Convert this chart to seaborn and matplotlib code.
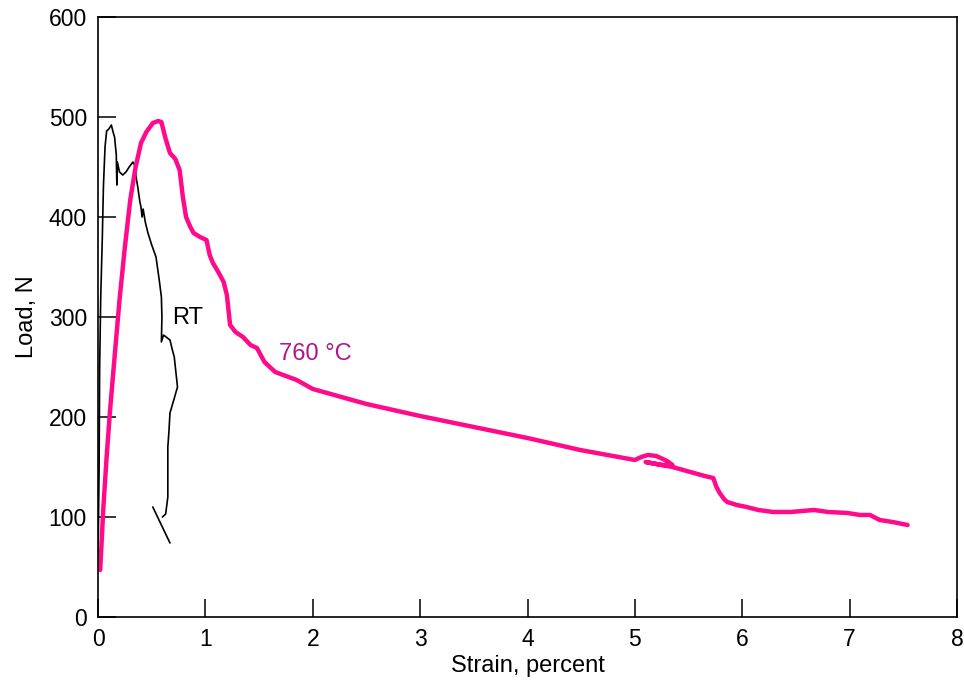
import numpy as np
import pandas as pd
import matplotlib
matplotlib.use("Agg")
import matplotlib.pyplot as plt
import seaborn as sns

# 760 °C curve (strain %, load N)
hot_strain = [0.02, 0.05, 0.08, 0.11, 0.15, 0.20, 0.25, 0.30, 0.35, 0.40, 0.45, 0.51, 0.56, 0.59,
              0.63, 0.67, 0.72, 0.76, 0.79, 0.82, 0.86, 0.89, 0.95, 1.01, 1.04, 1.07, 1.12, 1.17,
              1.20, 1.23, 1.28, 1.35, 1.42, 1.48, 1.55, 1.65, 1.85, 2.00, 2.50, 3.00, 3.50, 4.00,
              4.49, 5.00, 5.06, 5.12, 5.20, 5.30, 5.35, 5.25, 5.10, 5.20, 5.35, 5.45, 5.55, 5.65,
              5.73, 5.76, 5.79, 5.83, 5.86, 5.95, 6.04, 6.15, 6.29, 6.45, 6.67, 6.80, 6.98, 7.10,
              7.19, 7.28, 7.40, 7.54]
hot_load = [47, 110, 160, 204, 255, 317, 370, 417, 450, 474, 485, 494, 496, 495,
            478, 464, 458, 447, 420, 400, 390, 384, 380, 377, 362, 354, 345, 335,
            322, 292, 285, 280, 272, 269, 255, 245, 237, 228, 213, 201, 190, 179,
            167, 157, 160, 162, 161, 156, 152, 152, 155, 153, 150, 147, 144, 141,
            139, 130, 124, 118, 115, 112, 110, 107, 105, 105, 107, 105, 104, 102,
            102, 97, 95, 92]

# Room temperature curve
rt_strain = [0.000, 0.010, 0.015, 0.025, 0.040, 0.050, 0.065, 0.080, 0.100, 0.124, 0.140, 0.154,
             0.170, 0.175, 0.180, 0.200, 0.230, 0.260, 0.290, 0.325, 0.340, 0.356, 0.370, 0.390,
             0.400, 0.410, 0.420, 0.440, 0.465, 0.500, 0.540, 0.570, 0.590, 0.595, 0.590, 0.610,
             0.670, 0.690, 0.710, 0.740, 0.700, 0.670, 0.660, 0.650, 0.650, 0.650, 0.630, 0.600]
rt_load = [55, 150, 250, 320, 380, 430, 470, 486, 488, 492, 485, 480,
           462, 432, 455, 445, 442, 445, 450, 455, 452, 439, 430, 415,
           410, 400, 408, 395, 384, 372, 360, 337, 320, 300, 275, 282,
           277, 268, 260, 230, 215, 204, 185, 170, 140, 120, 103, 100]
rt_unload_strain = [0.51, 0.67]
rt_unload_load = [110, 74]

sns.set_theme(style="white")
plt.rcParams['font.family'] = ['Liberation Sans', 'DejaVu Sans']
plt.rcParams['xtick.direction'] = 'in'
plt.rcParams['ytick.direction'] = 'in'

fig = plt.figure(figsize=(9.64, 6.81), dpi=100)
ax = fig.add_axes([0.1017, 0.094, 0.8910, 0.881])

hot = pd.DataFrame({"strain": hot_strain, "load": hot_load})
rt = pd.DataFrame({"strain": rt_strain, "load": rt_load})
rt2 = pd.DataFrame({"strain": rt_unload_strain, "load": rt_unload_load})

sns.lineplot(data=rt, x="strain", y="load", sort=False, estimator=None, color="black", lw=1.2, ax=ax)
sns.lineplot(data=rt2, x="strain", y="load", sort=False, estimator=None, color="black", lw=1.2, ax=ax)
sns.lineplot(data=hot, x="strain", y="load", sort=False, estimator=None, color="#FF0A8A", lw=3.2, ax=ax)

ax.text(0.83, 299, "RT", fontsize=17, color="black", ha="center", va="center")
ax.text(1.69, 263, "760 °C", fontsize=17, color="#B0148A", ha="left", va="center")

ax.set_xlim(0, 8)
ax.set_ylim(0, 600)
ax.set_xticks(range(0, 9))
ax.set_yticks(range(0, 601, 100))
ax.tick_params(axis="both", which="major", length=13, width=1.1, labelsize=16.5, color="black",
               labelcolor="black", top=False, right=False, bottom=True, left=True, pad=8)
ax.set_xlabel("Strain, percent", fontsize=17, color="black", labelpad=3)
ax.set_ylabel("Load, N", fontsize=17, color="black", labelpad=8)
for s in ax.spines.values():
    s.set_visible(True)
    s.set_color("black")
    s.set_linewidth(1.2)

fig.savefig("out.png", dpi=100, facecolor="white")
